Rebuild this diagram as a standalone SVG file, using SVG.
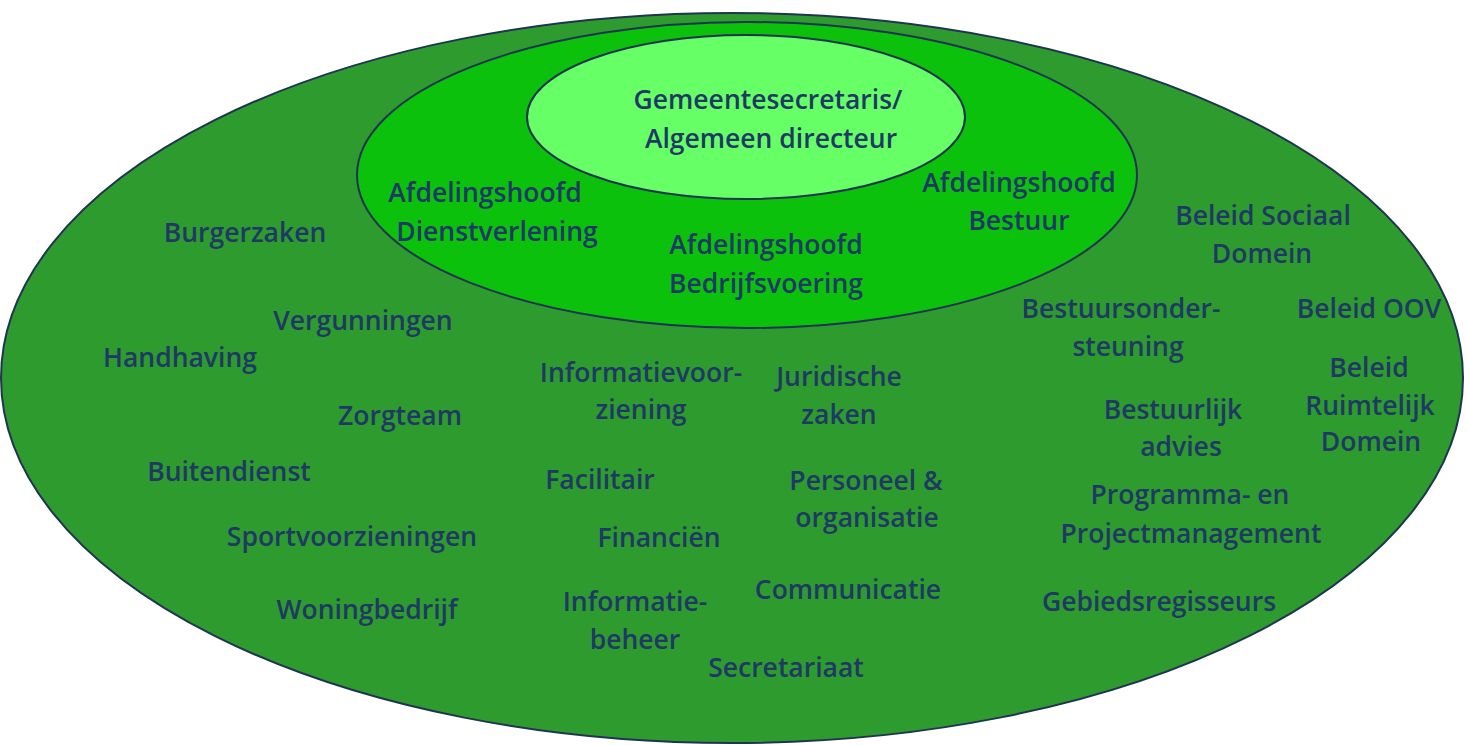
<svg xmlns="http://www.w3.org/2000/svg" width="1467" height="745" viewBox="0 0 1467 745">
<style>
.e{stroke:#1f3450;stroke-width:2}
text{font-family:"Open Sans","Noto Sans",sans-serif;font-size:26.5px;font-weight:600;fill:#1f3864;text-anchor:middle}
</style>
<rect width="1467" height="745" fill="#ffffff"/>
<g id="outer"><ellipse class="e" cx="732" cy="378" rx="731" ry="365" fill="#2e9b2e"/></g>
<g id="middle"><ellipse class="e" cx="747" cy="175" rx="390" ry="153" fill="#0cc10c"/></g>
<g id="inner"><ellipse class="e" cx="746" cy="117" rx="219" ry="82" fill="#66ff66"/></g>
<g id="connectors"></g>
<g transform="translate(0,1)">
<g id="n-gemeentesecretaris"><text x="768" y="108">Gemeentesecretaris/</text><text x="771" y="147">Algemeen directeur</text></g>
<g id="n-afd-dienstverlening"><text x="485" y="201">Afdelingshoofd</text><text x="497" y="240">Dienstverlening</text></g>
<g id="n-afd-bedrijfsvoering"><text x="766" y="253">Afdelingshoofd</text><text x="766" y="292">Bedrijfsvoering</text></g>
<g id="n-afd-bestuur"><text x="1019" y="191">Afdelingshoofd</text><text x="1019" y="229">Bestuur</text></g>
<g id="n-burgerzaken"><text x="245" y="241">Burgerzaken</text></g>
<g id="n-beleid-sociaal"><text x="1263" y="224">Beleid Sociaal</text><text x="1262" y="262">Domein</text></g>
<g id="n-vergunningen"><text x="363" y="329">Vergunningen</text></g>
<g id="n-handhaving"><text x="180" y="366">Handhaving</text></g>
<g id="n-bestuursondersteuning"><text x="1121" y="317">Bestuursonder-</text><text x="1128" y="355">steuning</text></g>
<g id="n-beleid-oov"><text x="1369" y="317">Beleid OOV</text></g>
<g id="n-beleid-ruimtelijk"><text x="1369" y="376">Beleid</text><text x="1370" y="414">Ruimtelijk</text><text x="1371" y="450">Domein</text></g>
<g id="n-informatievoorziening"><text x="641" y="381">Informatievoor-</text><text x="641" y="418">ziening</text></g>
<g id="n-juridische"><text x="839" y="385">Juridische</text><text x="839" y="423">zaken</text></g>
<g id="n-zorgteam"><text x="400" y="424">Zorgteam</text></g>
<g id="n-bestuurlijk"><text x="1173" y="418">Bestuurlijk</text><text x="1181" y="455">advies</text></g>
<g id="n-buitendienst"><text x="229" y="480">Buitendienst</text></g>
<g id="n-facilitair"><text x="600" y="488">Facilitair</text></g>
<g id="n-personeel"><text x="866" y="489">Personeel &amp;</text><text x="867" y="526">organisatie</text></g>
<g id="n-programma"><text x="1190" y="503">Programma- en</text><text x="1191" y="542">Projectmanagement</text></g>
<g id="n-sport"><text x="352" y="545">Sportvoorzieningen</text></g>
<g id="n-financien"><text x="659" y="546">Financiën</text></g>
<g id="n-communicatie"><text x="848" y="598">Communicatie</text></g>
<g id="n-gebied"><text x="1159" y="610">Gebiedsregisseurs</text></g>
<g id="n-woning"><text x="367" y="618">Woningbedrijf</text></g>
<g id="n-informatiebeheer"><text x="635" y="610">Informatie-</text><text x="635" y="648">beheer</text></g>
<g id="n-secretariaat"><text x="786" y="676">Secretariaat</text></g>
</g>
</svg>
